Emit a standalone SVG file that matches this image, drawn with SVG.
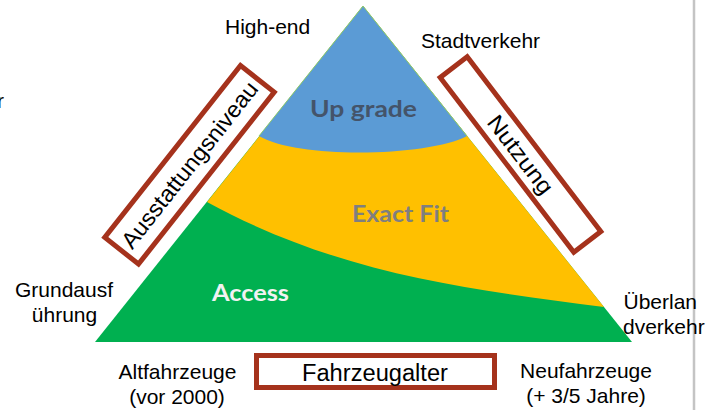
<svg xmlns="http://www.w3.org/2000/svg" width="717" height="410" viewBox="0 0 717 410">
<style>
.lbl{font-family:"Liberation Sans",Arial,sans-serif;font-size:21px;fill:#000}
.mid{text-anchor:middle}
.lvl{font-family:Lato,"Open Sans",sans-serif;font-weight:bold;font-size:22px;text-anchor:middle}
.box{fill:#fff;stroke:#A5321C;stroke-width:5}
.boxt{font-family:"Liberation Sans",Arial,sans-serif;font-size:23px;fill:#000;text-anchor:middle}
</style>
<rect width="717" height="410" fill="#fff"/>
<line x1="694" y1="0" x2="694" y2="410" stroke="#C4C4C4" stroke-width="2.5"/>
<text class="lbl" x="-3" y="108">r</text>

<g id="pyramid">
  <g id="access">
    <path d="M95,342 L363,6 L632,342 Z" fill="#00B050"/>
    <text class="lvl" x="250.5" y="301" fill="#F2F2F2" textLength="77" lengthAdjust="spacingAndGlyphs">Access</text>
  </g>
  <g id="exact-fit">
    <path d="M207,202 L363,6 L604,307 C474,290 340,275 207,202 Z" fill="#FFC000"/>
    <text class="lvl" x="400.5" y="222" fill="#7F7F7F" textLength="97" lengthAdjust="spacingAndGlyphs">Exact Fit</text>
  </g>
  <g id="up-grade">
    <path d="M363,6 L467,136 C430,156 300,160 259,136 Z" fill="#5B9BD5"/>
    <path d="M259,136 L363,6 L467,136" fill="none" stroke="#8FCB6E" stroke-width="1"/>
    <text class="lvl" x="363.5" y="117" fill="#44546A" textLength="107" lengthAdjust="spacingAndGlyphs">Up grade</text>
  </g>
</g>

<g id="ausstattungsniveau" transform="translate(189.5,164.8) rotate(-51.7)">
  <rect class="box" x="-109.5" y="-21.5" width="219" height="43"/>
  <text class="boxt" x="0" y="8" textLength="205" lengthAdjust="spacingAndGlyphs">Ausstattungsniveau</text>
</g>

<g id="nutzung" transform="translate(520.5,154.5) rotate(52.6)">
  <rect class="box" x="-110" y="-17" width="220" height="34" stroke-width="4.5"/>
  <text class="boxt" x="0" y="8" textLength="93" lengthAdjust="spacingAndGlyphs">Nutzung</text>
</g>

<g id="fahrzeugalter">
  <rect class="box" x="256.5" y="355.5" width="238" height="32"/>
  <text class="boxt" x="375" y="381" textLength="146" lengthAdjust="spacingAndGlyphs">Fahrzeugalter</text>
</g>

<g id="labels">
  <text class="lbl" x="225" y="34">High-end</text>
  <text class="lbl" x="421" y="48">Stadtverkehr</text>
  <text class="lbl mid" x="64" y="297">Grundausf</text>
  <text class="lbl mid" x="64.5" y="322">ührung</text>
  <text class="lbl" x="623.5" y="309">Überlan</text>
  <text class="lbl" x="623" y="334">dverkehr</text>
  <text class="lbl mid" x="177.5" y="379">Altfahrzeuge</text>
  <text class="lbl mid" x="177" y="404">(vor 2000)</text>
  <text class="lbl mid" x="586" y="378">Neufahrzeuge</text>
  <text class="lbl mid" x="586" y="403">(+ 3/5 Jahre)</text>
</g>
<g id="connectors"/>
</svg>
